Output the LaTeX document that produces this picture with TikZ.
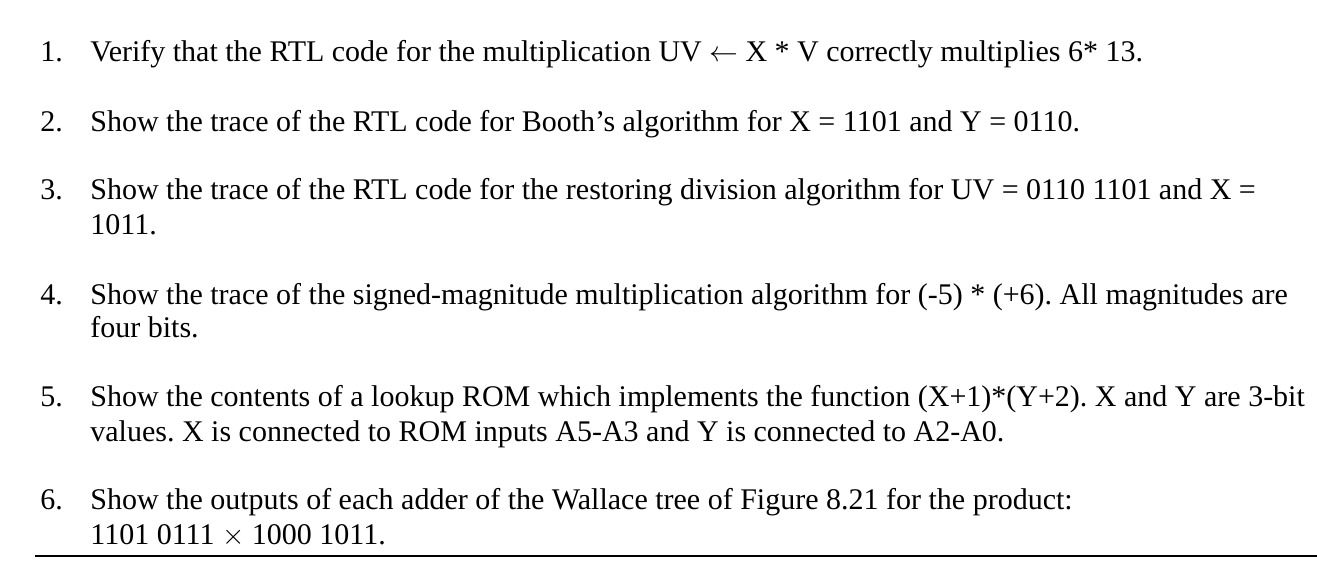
\documentclass[tikz,border=0pt]{standalone}
\usepackage{fontspec}
\setmainfont{Liberation Serif}
\frenchspacing
\begin{document}
\begin{tikzpicture}[x=0.5pt,y=-0.5pt,
  txt/.style={anchor=base west,inner sep=0pt,font=\fontsize{15}{18}\selectfont}]
\useasboundingbox (0,0) rectangle (1317,567);
\node[txt] (n1) at (40,62) {1.};
\node[txt] (t1) at (90,62) {Verify that the RTL code for the multiplication UV $\leftarrow$ X * V correctly multiplies 6* 13.};
\node[txt] (n2) at (40,132) {2.};
\node[txt] (t2) at (90,132) {Show the trace of the RTL code for Booth\symbol{39}s algorithm for X = 1101 and Y = 0110.};
\node[txt] (n3) at (40,199) {3.};
\node[txt] (t3) at (90,199) {Show the trace of the RTL code for the restoring division algorithm for UV = 0110 1101 and X =};
\node[txt] (t3b) at (90,234) {1011.};
\node[txt] (n4) at (40,304) {4.};
\node[txt] (t4) at (90,304) {Show the trace of the signed-magnitude multiplication algorithm for (-5) * (+6). All magnitudes are};
\node[txt] (t4b) at (90,337) {four bits.};
\node[txt] (n5) at (40,406) {5.};
\node[txt] (t5) at (90,406) {Show the contents of a lookup ROM which implements the function (X+1)*(Y+2). X and Y are 3-bit};
\node[txt] (t5b) at (90,441) {values. X is connected to ROM inputs A5-A3 and Y is connected to A2-A0.};
\node[txt] (n6) at (40,509) {6.};
\node[txt] (t6) at (90,509) {Show the outputs of each adder of the Wallace tree of Figure 8.21 for the product:};
\node[txt] (t6b) at (90,544) {1101 0111 $\times$ 1000 1011.};
\coordinate (la) at (35,556);
\coordinate (lb) at (1317,556);
\draw[line width=1.2pt] (la) -- (lb);
\end{tikzpicture}
\end{document}
